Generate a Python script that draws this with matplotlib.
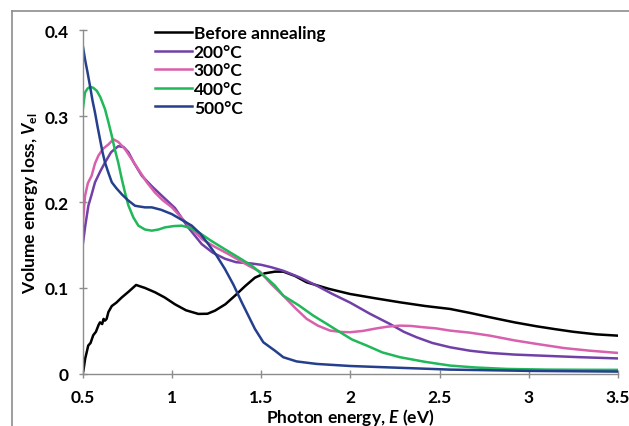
import matplotlib
matplotlib.use("Agg")
import matplotlib.pyplot as plt
from matplotlib.lines import Line2D

plt.rcParams['font.family'] = ['Lato', 'DejaVu Sans']
plt.rcParams['font.weight'] = 'bold'
plt.rcParams['mathtext.fontset'] = 'custom'
plt.rcParams['mathtext.rm'] = 'Lato:bold'
plt.rcParams['mathtext.it'] = 'Lato:bold:italic'
plt.rcParams['mathtext.bf'] = 'Lato:bold'

# Before annealing
x_before = [0.5, 0.505, 0.515, 0.522, 0.532, 0.545, 0.56, 0.575, 0.59, 0.598, 0.61, 0.618,
            0.626, 0.635, 0.645, 0.664, 0.69, 0.72, 0.76, 0.80, 0.85, 0.906, 0.96, 1.018,
            1.08, 1.149, 1.2, 1.242, 1.3, 1.354, 1.41, 1.466, 1.52, 1.578, 1.625, 1.69,
            1.756, 1.88, 1.999, 2.14, 2.279, 2.42, 2.559, 2.67, 2.783, 2.92, 3.044, 3.15,
            3.25, 3.38, 3.5]
y_before = [0.0, 0.004, 0.018, 0.024, 0.033, 0.036, 0.045, 0.049, 0.057, 0.060, 0.058, 0.064,
            0.062, 0.064, 0.072, 0.079, 0.083, 0.089, 0.096, 0.1035, 0.100, 0.095, 0.089, 0.081,
            0.074, 0.0698, 0.070, 0.0736, 0.081, 0.091, 0.102, 0.112, 0.117, 0.119, 0.119, 0.114,
            0.1066, 0.099, 0.093, 0.088, 0.0833, 0.079, 0.0756, 0.071, 0.0659, 0.060, 0.0554, 0.052,
            0.049, 0.046, 0.0445]

# 200°C
x_200 = [0.5, 0.515, 0.533, 0.55, 0.57, 0.6, 0.626, 0.66, 0.70, 0.73, 0.757, 0.79, 0.832,
         0.89, 0.944, 1.018, 1.09, 1.168, 1.23, 1.298, 1.36, 1.438, 1.5, 1.56, 1.625, 1.72,
         1.812, 1.9, 1.999, 2.11, 2.223, 2.3, 2.372, 2.46, 2.559, 2.67, 2.783, 2.92, 3.063,
         3.28, 3.5]
y_200 = [0.148, 0.172, 0.196, 0.208, 0.223, 0.236, 0.246, 0.258, 0.265, 0.264, 0.258, 0.245,
         0.2306, 0.218, 0.2074, 0.193, 0.171, 0.151, 0.141, 0.134, 0.130, 0.1287, 0.127, 0.124,
         0.120, 0.112, 0.1027, 0.093, 0.083, 0.070, 0.058, 0.049, 0.0426, 0.036, 0.031, 0.027,
         0.0244, 0.0225, 0.0213, 0.0195, 0.018]

# 300°C
x_300 = [0.5, 0.514, 0.53, 0.551, 0.57, 0.589, 0.615, 0.645, 0.673, 0.70, 0.738, 0.775,
         0.813, 0.86, 0.906, 0.95, 1.0, 1.08, 1.168, 1.24, 1.317, 1.38, 1.43, 1.494, 1.56,
         1.625, 1.69, 1.756, 1.82, 1.887, 1.95, 1.999, 2.07, 2.148, 2.21, 2.279, 2.34, 2.409,
         2.48, 2.559, 2.67, 2.783, 2.92, 3.044, 3.2, 3.343, 3.5]
y_300 = [0.17, 0.207, 0.222, 0.2306, 0.245, 0.254, 0.262, 0.267, 0.273, 0.270, 0.2616, 0.250,
         0.238, 0.223, 0.211, 0.202, 0.194, 0.176, 0.157, 0.148, 0.1395, 0.132, 0.126, 0.119,
         0.104, 0.091, 0.077, 0.064, 0.056, 0.0504, 0.0488, 0.0485, 0.050, 0.053, 0.055, 0.0562,
         0.0558, 0.0543, 0.053, 0.0504, 0.048, 0.0445, 0.039, 0.0349, 0.030, 0.027, 0.0244]

# 400°C
x_400 = [0.5, 0.514, 0.528, 0.542, 0.56, 0.58, 0.6, 0.626, 0.645, 0.664, 0.68, 0.70, 0.72,
         0.738, 0.757, 0.785, 0.813, 0.85, 0.888, 0.925, 0.962, 1.01, 1.056, 1.1, 1.149, 1.22,
         1.298, 1.37, 1.448, 1.494, 1.54, 1.578, 1.625, 1.71, 1.793, 1.87, 1.943, 2.01, 2.092,
         2.18, 2.279, 2.42, 2.559, 2.7, 2.876, 3.1, 3.3, 3.5]
y_400 = [0.305, 0.3275, 0.332, 0.334, 0.333, 0.3294, 0.322, 0.308, 0.293, 0.277, 0.262, 0.246,
         0.2267, 0.211, 0.196, 0.182, 0.1725, 0.168, 0.1667, 0.168, 0.1705, 0.172, 0.1725, 0.170,
         0.165, 0.155, 0.145, 0.136, 0.126, 0.118, 0.110, 0.1027, 0.091, 0.080, 0.0678, 0.058,
         0.0485, 0.040, 0.033, 0.025, 0.0194, 0.014, 0.0097, 0.0075, 0.0058, 0.005, 0.0048, 0.0047]

# 500°C
x_500 = [0.5, 0.514, 0.528, 0.542, 0.556, 0.57, 0.584, 0.598, 0.612, 0.626, 0.645, 0.664,
         0.69, 0.72, 0.755, 0.794, 0.813, 0.85, 0.888, 0.94, 1.0, 1.05, 1.112, 1.16, 1.205,
         1.25, 1.298, 1.345, 1.392, 1.438, 1.466, 1.513, 1.578, 1.625, 1.7, 1.812, 2.0, 2.185,
         2.559, 3.0, 3.5]
y_500 = [0.384, 0.366, 0.351, 0.335, 0.318, 0.304, 0.288, 0.273, 0.258, 0.246, 0.234, 0.223,
         0.216, 0.209, 0.202, 0.1957, 0.195, 0.1938, 0.1938, 0.191, 0.186, 0.180, 0.1725, 0.163,
         0.151, 0.138, 0.122, 0.104, 0.0833, 0.064, 0.0523, 0.0368, 0.027, 0.0194, 0.0145,
         0.0116, 0.0092, 0.0078, 0.005, 0.0035, 0.0027]

labels = ["Before annealing", "200°C", "300°C", "400°C", "500°C"]
colors = ["#000000", "#7040a8", "#d860ac", "#20b858", "#24408c"]
series = [(x_before, y_before), (x_200, y_200), (x_300, y_300), (x_400, y_400), (x_500, y_500)]

fig = plt.figure(figsize=(6.29, 4.27), dpi=100)
ax = fig.add_axes([0.1312, 0.122, 0.8513, 0.805])

for (xs, ys), lab, col in zip(series, labels, colors):
    ax.plot(xs, ys, color=col, lw=1.8, label=lab)

ax.set_xlim(0.5, 3.5)
ax.set_ylim(0, 0.4)
ax.set_xticks([0.5, 1, 1.5, 2, 2.5, 3, 3.5])
ax.set_xticklabels(["0.5", "1", "1.5", "2", "2.5", "3", "3.5"])
ax.set_yticks([0, 0.1, 0.2, 0.3, 0.4])
ax.set_yticklabels(["0", "0.1", "0.2", "0.3", "0.4"])

for s in ["top", "right"]:
    ax.spines[s].set_visible(False)
for s in ["left", "bottom"]:
    ax.spines[s].set_color("#8c8c8c")
    ax.spines[s].set_linewidth(1.0)
ax.tick_params(direction="inout", length=6, width=1.0, color="#8c8c8c",
               labelsize=12.5)
ax.tick_params(axis="x", pad=8)
ax.tick_params(axis="y", pad=7)
for t in ax.get_xticklabels() + ax.get_yticklabels():
    t.set_fontweight("bold")

ax.set_xlabel(r"Photon energy, $E$ (eV)", fontsize=12.5, fontweight="bold")
ax.xaxis.label.set_va("center")
ax.xaxis.set_label_coords(0.5, -0.125)
ax.set_ylabel(r"Volume energy loss, $V_\mathrm{el}$", fontsize=12.5, fontweight="bold", labelpad=3)

leg = ax.legend(loc="upper left", bbox_to_anchor=(0.122, 1.035), frameon=False,
                prop={"weight": "bold", "size": 12.5}, handlelength=2.15, handletextpad=0.1,
                labelspacing=0.15, borderaxespad=0)

# outer chart-area frame (top and left edges visible)
fig.add_artist(Line2D([12 / 629, 1], [1 - 12 / 427, 1 - 12 / 427], color="#8c8c8c", lw=1.2))
fig.add_artist(Line2D([12 / 629, 12 / 629], [0, 1 - 12 / 427], color="#8c8c8c", lw=1.2))

fig.savefig("out.png", dpi=100)
